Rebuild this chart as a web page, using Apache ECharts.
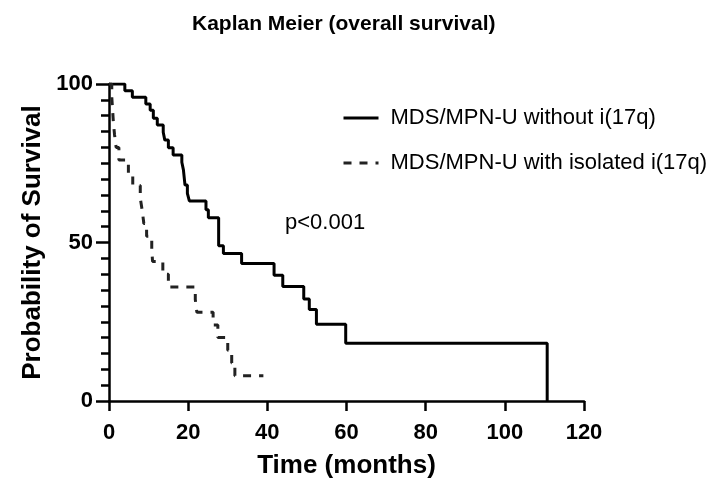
<!DOCTYPE html>
<html>
<head>
<meta charset="utf-8">
<script src="https://cdn.jsdelivr.net/npm/echarts@6/dist/echarts.min.js"></script>
<style>
  html, body { margin: 0; padding: 0; background: #fff; }
  #km { width: 707px; height: 487px; }
</style>
</head>
<body>
<div id="km"></div>
<script>
// [month, survival %] at each event (step after)
const withoutI17q = [
  [0, 100], [4.0, 97.9], [5.9, 95.8], [9.3, 93.7], [10.4, 91.7], [11.2, 89.2],
  [12.2, 87.1], [13.7, 84.8], [14.1, 82.3], [15.0, 79.9], [16.2, 77.6],
  [18.4, 75.3], [18.8, 72.9], [19.2, 68.1], [19.8, 65.5], [20.3, 63.1],
  [24.5, 60.3], [25.1, 57.8], [27.7, 49.0], [28.9, 46.5], [33.5, 43.4],
  [41.7, 39.7], [43.9, 36.1], [49.2, 32.2], [50.6, 28.9], [52.4, 24.2],
  [59.8, 18.2], [110.7, 18.2], [110.7, 0]
]
const withI17q = [
  [0, 100], [0.7, 96], [0.9, 92], [1.1, 88], [1.4, 84], [1.8, 80], [2.5, 76],
  [4.9, 72], [6.0, 68], [7.9, 64], [8.4, 60], [8.8, 56], [9.5, 52], [10.8, 48],
  [11.0, 44], [13.6, 40], [15.0, 36], [21.8, 32], [22.2, 28], [26.3, 24],
  [27.5, 20], [30.0, 16], [31.0, 12], [31.8, 8], [39.0, 8]
]
const seriesNames = ['MDS/MPN-U without i(17q)', 'MDS/MPN-U with isolated i(17q)']
const xTicks = [0, 20, 40, 60, 80, 100, 120]
const yLabels = [0, 50, 100]

const chart = echarts.init(document.getElementById('km'))

const boldFont = { fontFamily: 'Liberation Sans', fontWeight: 'bold', color: '#000' }

chart.setOption({
  animation: false,
  title: {
    text: 'Kaplan Meier (overall survival)',
    left: 187,
    top: 9,
    textStyle: { ...boldFont, fontSize: 21 }
  },
  legend: {
    orient: 'vertical',
    left: 337,
    top: 102,
    itemWidth: 35,
    itemHeight: 14,
    itemGap: 23,
    itemStyle: { opacity: 0 },
    lineStyle: { width: 3 },
    textStyle: { fontFamily: 'Liberation Sans', fontSize: 22, lineHeight: 22, color: '#000', padding: [0, 0, 0, 7] },
    data: seriesNames
  },
  grid: { left: 109, right: 123, top: 84, bottom: 86 },
  xAxis: {
    type: 'value',
    min: 0,
    max: 120,
    interval: 20,
    name: 'Time (months)',
    nameLocation: 'middle',
    nameGap: 52,
    nameTextStyle: { ...boldFont, fontSize: 26 },
    axisLine: { lineStyle: { color: '#000', width: 2.5 } },
    axisTick: { show: true, length: 10, lineStyle: { color: '#000', width: 2.5 } },
    axisLabel: {
      ...boldFont, fontSize: 22, margin: 21,
      formatter: v => xTicks.includes(v) ? String(v) : ''
    },
    splitLine: { show: false }
  },
  yAxis: {
    type: 'value',
    min: 0,
    max: 100,
    interval: 50,
    name: 'Probability of Survival',
    nameLocation: 'middle',
    nameGap: 59,
    nameTextStyle: { ...boldFont, fontSize: 26 },
    axisLine: { show: true, lineStyle: { color: '#000', width: 2.5 } },
    axisTick: { show: true, length: 13, lineStyle: { color: '#000', width: 2.5 } },
    minorTick: { show: true, splitNumber: 10, length: 8, lineStyle: { color: '#000', width: 2.5 } },
    axisLabel: {
      ...boldFont, fontSize: 22, margin: 16,
      formatter: v => yLabels.includes(v) ? String(v) : ''
    },
    splitLine: { show: false }
  },
  series: [
    {
      name: seriesNames[0],
      type: 'line',
      step: 'end',
      symbol: 'none',
      data: withoutI17q,
      lineStyle: { color: '#000', width: 3 },
      itemStyle: { color: '#000' }
    },
    {
      name: seriesNames[1],
      type: 'line',
      step: 'end',
      symbol: 'none',
      data: withI17q,
      lineStyle: { color: '#222', width: 3, type: [8, 8] },
      itemStyle: { color: '#222' }
    }
  ],
  graphic: [{
    type: 'text',
    left: 285,
    top: 212,
    style: { text: 'p<0.001', fontFamily: 'Liberation Sans', fontSize: 22, fill: '#000' }
  }]
})
</script>
</body>
</html>
